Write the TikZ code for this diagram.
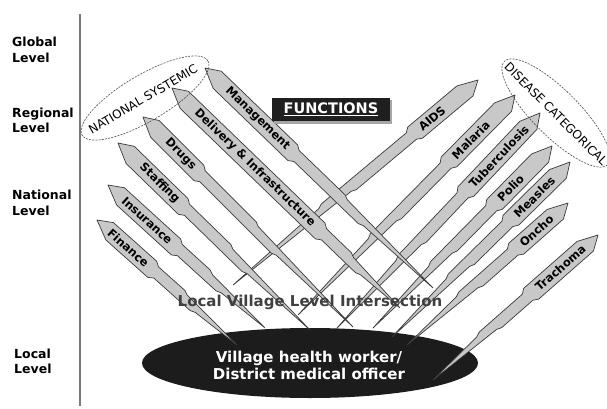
\documentclass[tikz,border=0pt]{standalone}
\usepackage{fontspec}
\setmainfont{DejaVu Sans}
\usetikzlibrary{shapes.geometric}
\definecolor{spikefill}{HTML}{C8C8C8}
\definecolor{spikeline}{HTML}{3A3A3A}
\definecolor{axisgray}{HTML}{7A7A7A}
\definecolor{textgray}{HTML}{404040}
\definecolor{ovalblack}{HTML}{1C1C1C}
\tikzset{
  spikebody/.style={fill=spikefill, draw=spikeline, line width=0.7pt, line join=round},
  spikelabel/.style={font=\fontsize{11.5}{12}\selectfont\bfseries, inner sep=0pt, text=black},
  levellabel/.style={font=\fontsize{12.5}{15.5}\selectfont\bfseries, align=left, anchor=west, inner sep=0pt},
  groupellipse/.style={ellipse, draw=black!70, dash pattern=on 2pt off 1.2pt, line width=0.6pt, inner sep=0pt},
  grouptext/.style={font=\fontsize{12}{13}\selectfont, inner sep=0pt},
}
% #1 tip x, #2 tip y, #3 end x, #4 end y, #5 label, #6 label distance, #7 label half length
\newcommand{\drawspike}[7]{%
  \pgfmathsetmacro\spdx{#3-#1}%
  \pgfmathsetmacro\spdy{#2-#4}%
  \pgfmathsetmacro\spang{atan2(\spdy,\spdx)}%
  \pgfmathsetmacro\spL{veclen(\spdx,\spdy)}%
  \pgfmathsetmacro\spW{#6+#7+5}%
  \pgfmathsetmacro\spMa{\spW+0.35*(\spL-\spW)}%
  \pgfmathsetmacro\spMb{\spW+0.5*(\spL-\spW)}%
  \pgfmathsetmacro\splrot{\spdx<0 ? \spang+180 : \spang}%
  \begin{scope}[shift={(#1,#2)}, rotate=\spang, y=1pt]
    \filldraw[spikebody] (0,0) -- (14,9) -- (\spW,9) -- ({\spW+5},6) -- (\spMa,6)
      -- ({\spMa+5},4) -- (\spL,0) -- ({\spMb+5},-3.5) -- (\spMb,-5.5)
      -- ({\spW+9},-5.5) -- ({\spW+4},-9) -- (20,-9) -- cycle;
    \node[spikelabel, rotate=\splrot] at (#6,0) {#5};
  \end{scope}
}
\begin{document}
\begin{tikzpicture}[x=1pt, y=-1pt]
  \useasboundingbox (0,0) rectangle (607,409);
  \fill[white] (0,0) rectangle (607,409);

  % vertical axis and levels
  \draw[axisgray, line width=1.1pt] (80,14) -- (80,406);
  \node[levellabel] (global) at (12,50) {Global\\Level};
  \node[levellabel] (regional) at (12,120.5) {Regional\\Level};
  \node[levellabel] (national) at (12,203) {National\\Level};
  \node[levellabel] (local) at (14,361.5) {Local\\Level};

  % bottom oval
  \node[ellipse, fill=ovalblack, minimum width=336pt, minimum height=70pt, inner sep=0pt] (vhw) at (310,363) {};

  % disease spikes
  \drawspike{478}{80}{233}{285}{AIDS}{60}{15}
  \drawspike{515}{95}{298}{315}{Malaria}{63}{24}
  \drawspike{540}{113}{337}{328}{Tuberculosis}{60}{41}
  \drawspike{552}{146}{373}{328}{Polio}{59}{16}
  \drawspike{570}{162}{392}{337}{Measles}{50}{26}
  \drawspike{568}{203}{407}{345}{Oncho}{42}{20}
  \drawspike{598}{235}{433}{380}{Trachoma}{50}{32}

  % function spikes
  \drawspike{97}{220}{237}{345}{Finance}{42}{25}
  \drawspike{108}{185}{265}{328}{Insurance}{53}{32}
  \drawspike{118}{143}{310}{330}{Staffing}{58}{26}
  \drawspike{143}{117}{353}{327}{Drugs}{53}{19}
  \drawspike{172}{88}{400}{308}{Delivery \& Infrastructure}{115}{84}
  \drawspike{205}{68}{433}{288}{Management}{73}{42}

  % group ellipses
  \node[groupellipse, rotate=30.6, minimum width=146pt, minimum height=46pt] (natsys) at (145,98) {};
  \node[grouptext, rotate=30.6] (natsystext) at (143,99) {NATIONAL SYSTEMIC};
  \node[groupellipse, rotate=-45, minimum width=146pt, minimum height=46pt] (discat) at (556,113) {};
  \node[grouptext, rotate=-45] (discattext) at (556,114) {DISEASE CATEGORICAL};

  % functions title
  \fill[black!35] (273.5,100.5) rectangle (391.5,123.5);
  \node[fill=black!88, text=white, font=\fontsize{14.5}{16}\selectfont\bfseries, minimum width=118pt, minimum height=23pt, inner sep=0pt] (functions) at (331,109.5) {\underline{FUNCTIONS}};

  % intersection label
  \node[text=textgray, font=\fontsize{15}{17}\selectfont\bfseries, inner sep=0pt] (intersect) at (310,302) {Local Village Level Intersection};

  % oval text
  \node[text=white, font=\fontsize{15}{17}\selectfont\bfseries, align=center, inner sep=0pt] (vhwtext) at (309,365) {Village health worker/\\District medical officer};
\end{tikzpicture}
\end{document}
